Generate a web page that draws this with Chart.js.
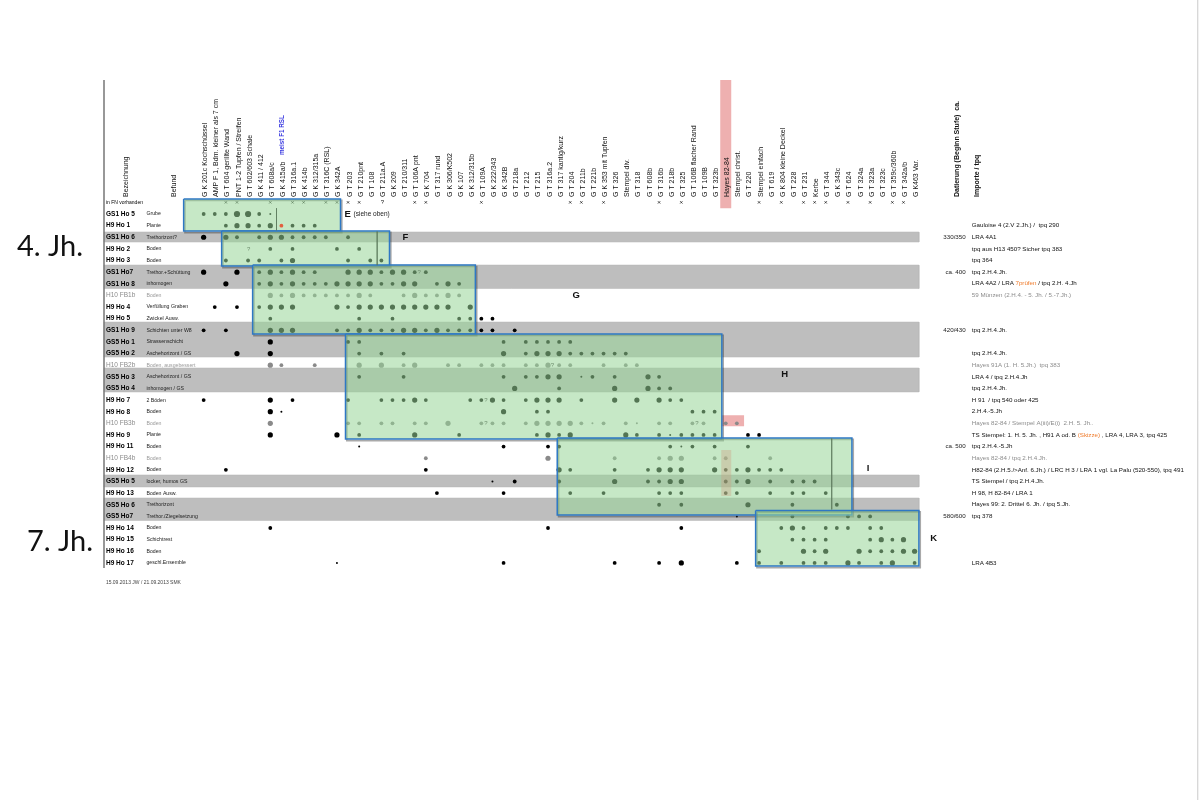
<!DOCTYPE html>
<html>
<head>
<meta charset="utf-8">
<title>Seriation</title>
<script src="https://cdn.jsdelivr.net/npm/chart.js@4/dist/chart.umd.min.js"></script>
<style>
	html, body { margin: 0; background: #fff; }
	canvas { display: block; }
</style>
</head>
<body>
<canvas id="seriationChart" width="1200" height="800"></canvas>
<script>
( function () {
	"use strict";

	// column headers (types), left to right, numbered from 1
	const typeNames = [
		"G K 201c Kochschüssel", "AMP F 1, Bdm. kleiner als 7 cm", "G T 604 gerillte Wand", "PNT 1-2 Tupfen / Streifen",
		"G T 602/603 Schale", "G K 411 / 412", "G T 608a/c", "G K 415a/b", "G T 316a.1", "G K 414b", "G K 312/315a",
		"G T 316C (RSL)", "G K 342A", "G T 203", "G T 210pnt", "G T 108", "G T 211a.A", "G K 209", "G T 210/311",
		"G T 106A pnt", "G K 704", "G T 317 rund", "G K 306/K502", "G K 107", "G K 312/315b", "G T 109A", "G K 222/343",
		"G K 342B", "G T 218a", "G T 212", "G T 215", "G T 316a.2", "G T 317 kantig/kurz", "G T 204", "G T 211b",
		"G T 221b", "G K 353 mit Tupfen", "G T 326", "Stempel div.", "G T 318", "G T 608b", "G T 316b", "G T 218b",
		"G T 325", "G T 106B flacher Rand", "G T 109B", "G T 323b", "Hayes 82-84", "Stempel christ.", "G T 220",
		"Stempel einfach", "G T 619", "G K 804 kleine Deckel", "G T 228", "G T 231", "Kerbe", "G T 344", "G K 343c",
		"G T 624", "G T 324a", "G T 323a", "G T 323c", "G T 359c/360b", "G T 342a/b", "G K463 Var."
	];
	const headerNames = ["Bezeichnung", "Befund", "Datierung (Beginn Stufe)  ca.", "Importe / tpq"];
	const headerCols = [-6.1, -1.8, 68.7, 70.5];
	const boldHeaders = ["Datierung (Beginn Stufe)  ca.", "Importe / tpq"];

	// rows (contexts), top to bottom, numbered from 0
	const rowNames = [
		"GS1 Ho 5", "H9 Ho 1", "GS1 Ho 6", "H9 Ho 2", "H9 Ho 3", "GS1 Ho7", "GS1 Ho 8", "H10 FB1b", "H9 Ho 4", "H9 Ho 5",
		"GS1 Ho 9", "GS5 Ho 1", "GS5 Ho 2", "H10 FB2b", "GS5 Ho 3", "GS5 Ho 4", "H9 Ho 7", "H9 Ho 8", "H10 FB3b", "H9 Ho 9",
		"H9 Ho 11", "H10 FB4b", "H9 Ho 12", "GS5 Ho 5", "H9 Ho 13", "GS5 Ho 6", "GS5 Ho7", "H9 Ho 14", "H9 Ho 15", "H9 Ho 16", "H9 Ho 17"
	];
	const befundNames = [
		"Grube", "Planie", "Trethorizont?", "Boden", "Boden", "Trethor.+Schüttung", "inhomogen", "Boden", "Verfüllung Graben", "Zwickel Ausw.",
		"Schichten unter W8", "Strassenschicht", "Aschehorizont / GS", "Boden, ausgebessert", "Aschehorizont / GS", "inhomogen / GS", "2 Böden", "Boden", "Boden", "Planie",
		"Boden", "Boden", "Boden", "locker, humos GS", "Boden Ausw.", "Trethorizont", "Trethor./Ziegelsetzung", "Boden", "Schichtrest", "Boden", "geschl.Ensemble"
	];
	const grayRows = [7, 13, 18, 21];
	const datingByRow = { 2: "330/350", 5: "ca. 400", 10: "420/430", 20: "ca. 500", 26: "580/600" };
	const importsByRow = {
		1: "Gauloise 4 (2.V 2.Jh.) /  tpq 290", 2: "LRA 4A1", 3: "tpq aus H13 450? Sicher tpq 383", 4: "tpq 364", 5: "tpq 2.H.4.Jh.",
		6: "LRA 4A2 / LRA |7prüfen| / tpq 2.H. 4.Jh", 7: "59 Münzen (2.H.4. - 5. Jh. / 5.-7.Jh.)", 10: "tpq 2.H.4.Jh.", 12: "tpq 2.H.4.Jh.",
		13: "Hayes 91A (1. H. 5.Jh.)  tpq 383", 14: "LRA 4 / tpq 2.H.4.Jh", 15: "tpq 2.H.4.Jh.", 16: "H 91  / tpq 540 oder 425", 17: "2.H.4.-5.Jh",
		18: "Hayes 82-84 / Stempel A(iii)/E(i)  2.H. 5. Jh..", 19: "TS Stempel: 1. H. 5. Jh. , H91 A od. B |(Skizze)| , LRA 4, LRA 3, tpq 425",
		20: "tpq 2.H.4.-5.Jh", 21: "Hayes 82-84 / tpq 2.H.4.Jh.", 22: "H82-84 (2.H.5./>Anf. 6.Jh.) / LRC H 3 / LRA 1 vgl. La Palu (520-550), tpq 491",
		23: "TS Stempel / tpq 2.H.4.Jh.", 24: "H 98, H 82-84 / LRA 1", 25: "Hayes 99: 2. Drittel 6. Jh. / tpq 5.Jh.", 26: "tpq 378", 30: "LRA 4B3"
	};

	// finds per row: [column, size class 1-4]
	const findsByRow = [
		[[1,2],[2,2],[3,2],[4,4],[5,4],[6,2],[7,1]],
		[[3,2],[4,3],[5,3],[6,2],[7,3],[9,2],[10,2],[11,2]],
		[[1,3],[3,3],[4,2],[6,2],[7,3],[8,3],[9,2],[10,2],[11,2],[12,2],[14,2]],
		[[7,2],[9,2],[13,2],[15,2]],
		[[3,2],[5,2],[6,2],[8,2],[9,3],[14,2],[16,2],[17,2]],
		[[1,3],[4,3],[6,2],[7,3],[8,2],[9,3],[10,2],[11,2],[14,3],[15,3],[16,3],[17,2],[18,3],[19,3],[20,2],[21,2]],
		[[3,3],[6,2],[7,3],[8,2],[9,3],[10,2],[11,2],[12,2],[13,3],[14,3],[15,3],[16,3],[17,2],[18,2],[19,3],[20,3],[22,2],[23,3],[24,2]],
		[[7,3],[8,2],[9,3],[10,2],[11,2],[12,2],[13,2],[14,2],[15,3],[16,2],[19,2],[20,3],[21,2],[22,2],[23,3],[24,2]],
		[[2,2],[4,2],[6,2],[7,3],[8,3],[9,3],[13,3],[14,2],[15,3],[16,3],[17,3],[18,3],[19,3],[20,3],[21,3],[22,3],[23,3],[25,3]],
		[[7,2],[15,2],[18,2],[24,2],[25,2],[26,2],[27,2]],
		[[1,2],[3,2],[7,3],[8,3],[9,3],[13,2],[14,2],[15,3],[16,2],[17,2],[18,2],[19,3],[20,3],[21,2],[22,3],[23,2],[24,2],[25,2],[26,2],[27,2],[29,2]],
		[[7,3],[14,2],[15,2],[28,2],[30,2],[31,2],[32,2],[33,2],[34,2]],
		[[4,3],[7,3],[15,2],[17,2],[19,2],[28,3],[30,2],[31,3],[32,3],[33,3],[34,2],[35,2],[36,2],[37,2],[38,2],[39,2]],
		[[7,3],[8,2],[11,2],[15,3],[17,3],[19,2],[20,3],[23,2],[24,2],[26,2],[27,2],[28,2],[30,2],[31,2],[32,3],[33,2],[34,2],[37,2],[39,2],[40,2]],
		[[15,2],[19,2],[28,2],[30,2],[31,2],[32,3],[33,3],[35,1],[36,2],[38,2],[41,3],[42,2]],
		[[29,3],[33,2],[38,3],[41,3],[42,2],[43,2]],
		[[1,2],[7,3],[9,2],[14,2],[17,2],[18,2],[19,2],[20,3],[21,2],[25,2],[26,2],[27,3],[28,2],[30,2],[31,3],[32,3],[33,3],[35,2],[38,3],[40,3],[42,3],[43,2],[44,2]],
		[[7,3],[8,1],[28,3],[31,2],[32,2],[45,2],[46,2],[47,2]],
		[[7,3],[14,2],[15,2],[17,2],[18,2],[20,2],[21,2],[23,3],[26,2],[27,2],[28,2],[30,2],[31,3],[32,3],[33,3],[34,3],[35,2],[36,1],[37,2],[39,2],[40,1],[42,2],[43,2],[45,2],[46,2],[48,2],[49,2]],
		[[7,3],[13,3],[15,2],[20,3],[24,2],[31,2],[32,3],[33,2],[34,3],[39,3],[40,2],[42,2],[43,1],[44,2],[45,2],[46,2],[47,2],[50,2],[51,2]],
		[[15,1],[28,2],[32,2],[33,2],[43,2],[44,1],[45,2],[47,2],[50,2]],
		[[21,2],[32,3],[38,2],[42,2],[43,3],[44,3],[47,2],[48,2],[52,2]],
		[[3,2],[21,2],[33,3],[34,2],[38,2],[41,2],[42,3],[43,3],[44,3],[47,3],[48,2],[49,2],[50,3],[51,2],[52,2],[53,2]],
		[[27,1],[29,2],[33,2],[38,3],[41,2],[42,2],[43,3],[44,3],[48,2],[49,2],[50,3],[52,2],[54,2],[55,2],[56,2]],
		[[22,2],[28,2],[34,2],[37,2],[42,2],[43,2],[44,2],[48,2],[49,2],[52,2],[54,2],[55,2],[57,2]],
		[[42,2],[44,2],[50,3],[54,2],[58,2]],
		[[49,1],[54,2],[59,2],[60,2],[61,2]],
		[[7,2],[32,2],[44,2],[53,2],[54,3],[55,2],[57,2],[58,2],[59,2],[61,2],[62,2]],
		[[54,2],[55,2],[56,2],[57,2],[61,2],[62,3],[63,2],[64,3]],
		[[51,2],[55,3],[56,2],[57,3],[60,3],[61,2],[62,2],[63,2],[64,3],[65,3]],
		[[13,1],[28,2],[38,2],[42,2],[44,3],[49,2],[51,2],[53,2],[55,2],[56,2],[57,2],[59,3],[60,2],[62,2],[63,3],[65,2]]
	];
	const redFind = [8, 1];

	// "in FN vorhanden" row
	const fnCols = [3, 4, 7, 9, 10, 12, 13, 14, 15, 20, 21, 26, 34, 35, 37, 42, 44, 51, 53, 55, 56, 57, 59, 61, 63, 64];
	// question marks: [column, row]
	const queries = [[17.1, -1], [5.05, 3], [20.4, 5], [32.4, 13], [26.4, 16], [26.4, 18], [45.4, 18]];

	// gray bands, [from row, to row]
	const bandRows = [[1.55, 2.41], [4.39, 6.41], [9.29, 12.3], [13.24, 15.3], [22.44, 23.47], [24.42, 26.35]];
	const bandCols = [-7.97, 65.39];

	// phases E-K
	const phaseNames = ["E", "F", "G", "H", "I", "K"];
	const phaseCols = [[-0.8, 13.32], [2.62, 17.73], [5.41, 25.46], [13.77, 47.65], [32.83, 59.36], [50.69, 65.39]];
	const phaseRows = [[-1.29, 1.46], [1.46, 4.47], [4.39, 10.32], [10.32, 19.35], [19.26, 25.88], [25.49, 30.27]];
	const phaseLabelCols = [13.68, 18.9, 34.2, 53, 60.7, 66.4];
	const phaseLabelRows = [0, 2, 7, 13.8, 21.9, 27.9];
	// thin dividers inside phases: [column, from row, to row]
	const dividers = [[7.56, -0.5, 1.4], [16.62, 1.5, 4.4], [57.54, 19.3, 25.4]];

	// highlighted cells: [from col, to col, from row, to row]
	const pinkCells = [[47.65, 49.65, 17.3, 18.25]];
	const beigeCells = [[47.6, 48.5, 20.3, 24.25]];
	const hayesCol = 48;
	const hayesRows = [-11.52, -0.5];

	const centuryNames = ["4. Jh.", "7. Jh."];
	const centuryCols = [-15.8, -14.9];
	const centuryRows = [2.84, 28.2];

	const radiusByClass = [0, 1, 1.9, 2.6, 3.1];

	function rect( c0, c1, r0, r1 ) {
		return [ { x: c0, y: r0 }, { x: c1, y: r0 }, { x: c1, y: r1 }, { x: c0, y: r1 }, { x: c0, y: r0 } ];
	}
	function area( points, fill, line, width ) {
		return { type: "scatter", data: points, showLine: true, fill: "shape", backgroundColor: fill, borderColor: line,
			borderWidth: width, pointRadius: 0, clip: false };
	}
	function stroke( points, line, width ) {
		return { type: "scatter", data: points, showLine: true, fill: false, borderColor: line, borderWidth: width,
			borderCapStyle: "butt", pointRadius: 0, clip: false };
	}
	function isGray( c ) {
		return !!c.tick && grayRows.indexOf( c.tick.value ) >= 0;
	}

	const blackFinds = [];
	const grayFinds = [];
	findsByRow.forEach( function ( finds, row ) {
		finds.forEach( function ( f ) {
			( grayRows.indexOf( row ) >= 0 ? grayFinds : blackFinds ).push( { x: f[0], y: row, r: radiusByClass[f[1]] } );
		} );
	} );

	// datasets listed in paint order, first one at the back
	const datasets = [];
	bandRows.forEach( function ( r ) {
		datasets.push( area( rect( bandCols[0], bandCols[1], r[0], r[1] ), "#bebebe", "#b4b4b4", 0.5 ) );
	} );
	pinkCells.forEach( function ( c ) {
		datasets.push( area( rect( c[0], c[1], c[2], c[3] ), "#eeb0b0", "#eeb0b0", 0 ) );
	} );
	datasets.push( stroke( [ { x: hayesCol, y: hayesRows[0] }, { x: hayesCol, y: hayesRows[1] } ], "#eeb0b0", 11 ) );
	datasets.push( stroke( [ { x: -7.97, y: -11.52 }, { x: -7.97, y: 30.43 } ], "#777777", 1.5 ) );
	datasets.push( stroke( [ { x: 90.48, y: -18.4 }, { x: 90.48, y: 50.4 } ], "#d8d8d8", 1 ) );
	datasets.push( { type: "bubble", data: blackFinds, backgroundColor: "#000", borderWidth: 0 } );
	datasets.push( { type: "bubble", data: grayFinds, backgroundColor: "#8a8a8a", borderWidth: 0 } );
	datasets.push( { type: "scatter", data: fnCols.map( function ( c ) { return { x: c, y: -1 }; } ), pointStyle: "crossRot",
		pointRadius: 1.7, borderColor: "#111", borderWidth: 0.7, backgroundColor: "#111" } );
	phaseNames.forEach( function ( n, i ) {
		const c = phaseCols[i], r = phaseRows[i];
		datasets.push( stroke( rect( c[0] + 0.12, c[1] + 0.12, r[0] + 0.12, r[1] + 0.14 ), "rgba(40,40,40,0.4)", 1.6 ) );
		datasets.push( area( rect( c[0], c[1], r[0], r[1] ), "rgba(151,213,151,0.55)", "#2e78c4", 1.5 ) );
	} );
	dividers.forEach( function ( d ) {
		datasets.push( stroke( [ { x: d[0], y: d[1] }, { x: d[0], y: d[2] } ], "rgba(90,120,90,0.75)", 0.8 ) );
	} );
	beigeCells.forEach( function ( c ) {
		datasets.push( area( rect( c[0], c[1], c[2], c[3] ), "rgba(205,155,125,0.35)", "rgba(205,155,125,0)", 0 ) );
	} );
	datasets.push( { type: "bubble", data: [ { x: redFind[0], y: redFind[1], r: radiusByClass[2] } ], backgroundColor: "#e2603f", borderWidth: 0 } );
	datasets.forEach( function ( d, i ) { d.order = datasets.length - i; } );

	const xTickValues = headerCols.slice( 0, 2 ).concat( typeNames.map( function ( n, i ) { return i + 1; } ), headerCols.slice( 2 ) );
	const xTickLabels = headerNames.slice( 0, 2 ).concat( typeNames, headerNames.slice( 2 ) );

	const sans = "'Liberation Sans', Arial, sans-serif";

	// text columns and notes that have no axis of their own
	const textPlugin = {
		id: "seriationText",
		afterDatasetsDraw: function ( chart ) {
			const ctx = chart.ctx, x = chart.scales.x, y = chart.scales.y;
			function put( text, col, row, font, color, align ) {
				ctx.font = font;
				ctx.fillStyle = color;
				ctx.textAlign = align || "left";
				ctx.textBaseline = "middle";
				ctx.fillText( text, x.getPixelForValue( col ), y.getPixelForValue( row ) );
			}
			ctx.save();
			befundNames.forEach( function ( t, r ) {
				put( t, -4.15, r, "5.2px " + sans, grayRows.indexOf( r ) >= 0 ? "#9a9a9a" : "#222" );
			} );
			Object.keys( datingByRow ).forEach( function ( r ) {
				put( datingByRow[r], 69.6, +r, "6.2px " + sans, "#222", "right" );
			} );
			Object.keys( importsByRow ).forEach( function ( r ) {
				const gray = grayRows.indexOf( +r ) >= 0;
				let col = 70.15;
				importsByRow[r].split( "|" ).forEach( function ( part, i ) {
					put( part, col, +r, "6.2px " + sans, i % 2 ? "#ef7a2a" : ( gray ? "#8c8c8c" : "#111" ) );
					col += ctx.measureText( part ).width / ( x.getPixelForValue( 1 ) - x.getPixelForValue( 0 ) );
				} );
			} );
			queries.forEach( function ( q ) {
				put( "?", q[0], q[1], "6px " + sans, q[1] < 0 ? "#111" : "#6f8f6f", "center" );
			} );
			phaseNames.forEach( function ( n, i ) {
				put( n, phaseLabelCols[i], phaseLabelRows[i], "bold 9.5px " + sans, "#111" );
			} );
			put( "(siehe oben)", 14.5, 0, "6.5px " + sans, "#222" );
			centuryNames.forEach( function ( n, i ) {
				put( n, centuryCols[i], centuryRows[i], "29px Lato, sans-serif", "#111" );
			} );
			put( "15.09.2013 JW / 21.09.2013 SMK", -7.8, 31.7, "5px " + sans, "#444" );

			// blue remark behind the label of column 8
			ctx.translate( x.getPixelForValue( 8 ) + 1, 155 );
			ctx.rotate( -Math.PI / 2 );
			ctx.font = "bold 6.3px " + sans;
			ctx.fillStyle = "#3a3ae0";
			ctx.textAlign = "left";
			ctx.textBaseline = "middle";
			ctx.fillText( "meist F1 RSL", 0, 0 );
			ctx.restore();
		}
	};

	new Chart( document.getElementById( "seriationChart" ), {
		type: "bubble",
		data: { datasets: datasets },
		plugins: [ textPlugin ],
		options: {
			responsive: false,
			animation: false,
			events: [],
			layout: { padding: { left: 104, right: 1, top: 0, bottom: 220 } },
			plugins: { legend: { display: false }, tooltip: { enabled: false }, title: { display: false } },
			scales: {
				x: {
					type: "linear",
					position: "top",
					min: -7.97,
					max: 90.27,
					grid: { display: false, drawTicks: false },
					border: { display: false },
					afterBuildTicks: function ( scale ) {
						scale.ticks = xTickValues.map( function ( v ) { return { value: v }; } );
					},
					afterFit: function ( scale ) { scale.height = 198; },
					ticks: {
						autoSkip: false,
						minRotation: 90,
						maxRotation: 90,
						padding: 1,
						labelOffset: 10,
						z: 1,
						color: "#111",
						font: function ( c ) {
							const bold = boldHeaders.indexOf( xTickLabels[c.index] ) >= 0;
							return { family: sans, size: 7, weight: bold ? "bold" : "normal" };
						},
						callback: function ( v, i ) { return xTickLabels[i]; }
					}
				},
				y: {
					type: "linear",
					position: "left",
					reverse: true,
					min: -1.376,
					max: 31.47,
					grid: { display: false, drawTicks: false },
					border: { display: false },
					afterFit: function ( scale ) { scale.width = 0; },
					ticks: {
						stepSize: 1,
						autoSkip: false,
						includeBounds: false,
						mirror: true,
						padding: 2,
						z: 1,
						color: function ( c ) { return isGray( c ) ? "#8c8c8c" : "#000"; },
						font: function ( c ) {
							if ( c.tick && c.tick.value < 0 ) return { family: sans, size: 5 };
							return { family: sans, size: 6.5, weight: isGray( c ) ? "normal" : "bold" };
						},
						callback: function ( v ) { return v < 0 ? "in FN vorhanden" : ( rowNames[v] || "" ); }
					}
				}
			}
		}
	} );
} )();
</script>
</body>
</html>
